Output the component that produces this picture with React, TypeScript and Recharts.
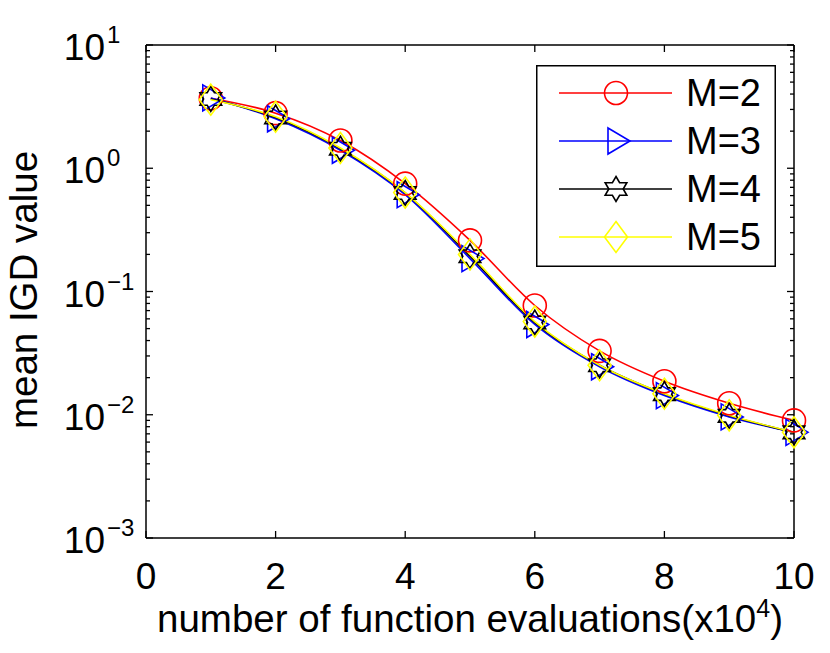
import React from 'react';
import { LineChart, Line, XAxis, YAxis, Legend, Label } from 'recharts';

// x positions, in units of 10^4 function evaluations
const EVALS = [1, 2, 3, 4, 5, 6, 7, 8, 9, 10];

// mean IGD per number of objectives
const M2 = [3.7, 2.8, 1.68, 0.75, 0.26, 0.077, 0.033, 0.0187, 0.0124, 0.009];
const M3 = [3.72, 2.52, 1.4, 0.61, 0.185, 0.054, 0.0245, 0.0143, 0.0096, 0.0072];
const M4 = [3.65, 2.58, 1.44, 0.63, 0.193, 0.056, 0.0252, 0.0147, 0.0098, 0.0072];
const M5 = [3.6, 2.62, 1.46, 0.635, 0.2, 0.057, 0.0252, 0.0148, 0.0099, 0.0072];

const SERIES_NAMES = ['M=2', 'M=3', 'M=4', 'M=5'];
const SERIES_COLORS = ['#ff0000', '#0000ff', '#000000', '#ffff00'];

const X_TICKS = [0, 2, 4, 6, 8, 10];
const Y_MAJOR = [0.001, 0.01, 0.1, 1, 10];
const Y_EXPONENTS = ['\u22123', '\u22122', '\u22121', '0', '1'];
const Y_MINOR_STEPS = [2, 3, 4, 5, 6, 7, 8, 9];

const data = EVALS.map((x, i) => ({ x, m2: M2[i], m3: M3[i], m4: M4[i], m5: M5[i] }));

const yTicks: number[] = [];
Y_MAJOR.forEach((d, i) => {
  yTicks.push(d);
  if (i < Y_MAJOR.length - 1) Y_MINOR_STEPS.forEach(k => yTicks.push(+(d * k).toPrecision(3)));
});

const FONT = '"Liberation Sans", Arial, Helvetica, sans-serif';
const W = 830;
const H = 653;
const MARGIN = { top: 44, right: 35, left: 0, bottom: 0 };

const majorIndex = (v: number) => Y_MAJOR.findIndex(m => Math.abs(m - v) / m < 1e-6);

function LeftTick({ x, y, payload }: any) {
  const idx = majorIndex(payload.value);
  const major = idx >= 0;
  return (
    <g>
      <line x1={x} y1={y} x2={x + (major ? 7 : 4)} y2={y} stroke="#000" strokeWidth={1.3} />
      {major && (
        <>
          <text x={x - 41} y={y + 15} textAnchor="end" fontSize={37} fontFamily={FONT} fill="#000">10</text>
          <text x={x - 39} y={y - 2} fontSize={24} fontFamily={FONT} fill="#000">{Y_EXPONENTS[idx]}</text>
        </>
      )}
    </g>
  );
}

function RightTick({ x, y, payload }: any) {
  const major = majorIndex(payload.value) >= 0;
  return <line x1={x} y1={y} x2={x - (major ? 7 : 4)} y2={y} stroke="#000" strokeWidth={1.3} />;
}

function BottomTick({ x, y, payload }: any) {
  return (
    <g>
      <line x1={x} y1={y} x2={x} y2={y - 7} stroke="#000" strokeWidth={1.3} />
      <text x={x} y={y + 51} textAnchor="middle" fontSize={37} fontFamily={FONT} fill="#000">{payload.value}</text>
    </g>
  );
}

function TopTick({ x, y }: any) {
  return <line x1={x} y1={y} x2={x} y2={y + 7} stroke="#000" strokeWidth={1.3} />;
}

function marker(kind: number, cx: number, cy: number, color: string, key?: string) {
  const sw = 1.6;
  if (kind === 0) return <circle key={key} cx={cx} cy={cy} r={11.5} fill="none" stroke={color} strokeWidth={sw} />;
  if (kind === 1) {
    const pts = `${cx - 8},${cy - 13} ${cx + 14},${cy} ${cx - 8},${cy + 13}`;
    return <polygon key={key} points={pts} fill="none" stroke={color} strokeWidth={sw} />;
  }
  if (kind === 2) {
    const pts: string[] = [];
    for (let i = 0; i < 12; i++) {
      const r = i % 2 === 0 ? 12.5 : 7.2;
      const a = (Math.PI / 6) * i - Math.PI / 2;
      pts.push(`${cx + r * Math.cos(a)},${cy + r * Math.sin(a)}`);
    }
    return <polygon key={key} points={pts.join(' ')} fill="none" stroke={color} strokeWidth={sw} />;
  }
  const pts = `${cx},${cy - 15.5} ${cx + 11.5},${cy} ${cx},${cy + 15.5} ${cx - 11.5},${cy}`;
  return <polygon key={key} points={pts} fill="none" stroke={color} strokeWidth={sw} />;
}

const makeDot = (kind: number) => (props: any) =>
  marker(kind, props.cx, props.cy, SERIES_COLORS[kind], `dot-${kind}-${props.index}`);

function LegendBox() {
  const rows = [28, 76, 124, 172];
  return (
    <svg width={240} height={202} style={{ display: 'block' }}>
      <rect x={0.75} y={0.75} width={238.5} height={200.5} fill="#fff" stroke="#000" strokeWidth={1.5} />
      {SERIES_NAMES.map((name, i) => (
        <g key={name}>
          <line x1={23} y1={rows[i]} x2={136} y2={rows[i]} stroke={SERIES_COLORS[i]} strokeWidth={1.5} />
          {marker(i, 80, rows[i], SERIES_COLORS[i])}
          <text x={150} y={rows[i] + 13} fontSize={38} fontFamily={FONT} fill="#000">{name}</text>
        </g>
      ))}
    </svg>
  );
}

function XTitle({ viewBox }: any) {
  const cx = viewBox.x + viewBox.width / 2;
  return (
    <text x={cx} y={viewBox.y + 94} textAnchor="middle" fontSize={38.5} fontFamily={FONT} fill="#000">
      number of function evaluations(x10
      <tspan fontSize={25} dy={-15}>4</tspan>
      <tspan dy={15}>)</tspan>
    </text>
  );
}

function YTitle() {
  return (
    <text x={37} y={290} transform="rotate(-90 37 290)" textAnchor="middle" fontSize={38.5} fontFamily={FONT} fill="#000">
      mean IGD value
    </text>
  );
}

export default function App() {
  const keys = ['m2', 'm3', 'm4', 'm5'];
  return (
    <div style={{ position: 'absolute', left: 0, top: 0, background: '#fff' }}>
      <LineChart width={W} height={H} data={data} margin={MARGIN}>
        <XAxis dataKey="x" type="number" domain={[0, 10]} ticks={X_TICKS} interval={0}
          height={115} tickSize={0} tickMargin={0} tickLine={false} tick={<BottomTick />}
          axisLine={{ stroke: '#000', strokeWidth: 1.5 }}>
          <Label content={<XTitle />} />
        </XAxis>
        <XAxis xAxisId="top" dataKey="x" orientation="top" type="number" domain={[0, 10]} ticks={X_TICKS} interval={0}
          allowDataOverflow height={1} tickSize={0} tickMargin={0} tickLine={false} tick={<TopTick />}
          axisLine={{ stroke: '#000', strokeWidth: 1.5 }} />
        <YAxis scale="log" type="number" domain={[0.001, 10]} ticks={yTicks} interval={0}
          width={146} tickSize={0} tickMargin={0} tickLine={false} tick={<LeftTick />}
          axisLine={{ stroke: '#000', strokeWidth: 1.5 }}>
          <Label content={<YTitle />} />
        </YAxis>
        <YAxis yAxisId="right" orientation="right" scale="log" type="number" domain={[0.001, 10]} ticks={yTicks}
          interval={0} allowDataOverflow width={1} tickSize={0} tickMargin={0} tickLine={false} tick={<RightTick />}
          axisLine={{ stroke: '#000', strokeWidth: 1.5 }} />
        <Legend verticalAlign="middle" layout="horizontal" content={() => <LegendBox />}
          wrapperStyle={{ position: 'absolute', left: 536, top: 65, width: 240, height: 202 }} />
        {keys.map((k, i) => (
          <Line key={k} dataKey={k} name={SERIES_NAMES[i]} type="monotone" stroke={SERIES_COLORS[i]}
            strokeWidth={1.6} dot={makeDot(i)} activeDot={false} isAnimationActive={false} />
        ))}
      </LineChart>
    </div>
  );
}
